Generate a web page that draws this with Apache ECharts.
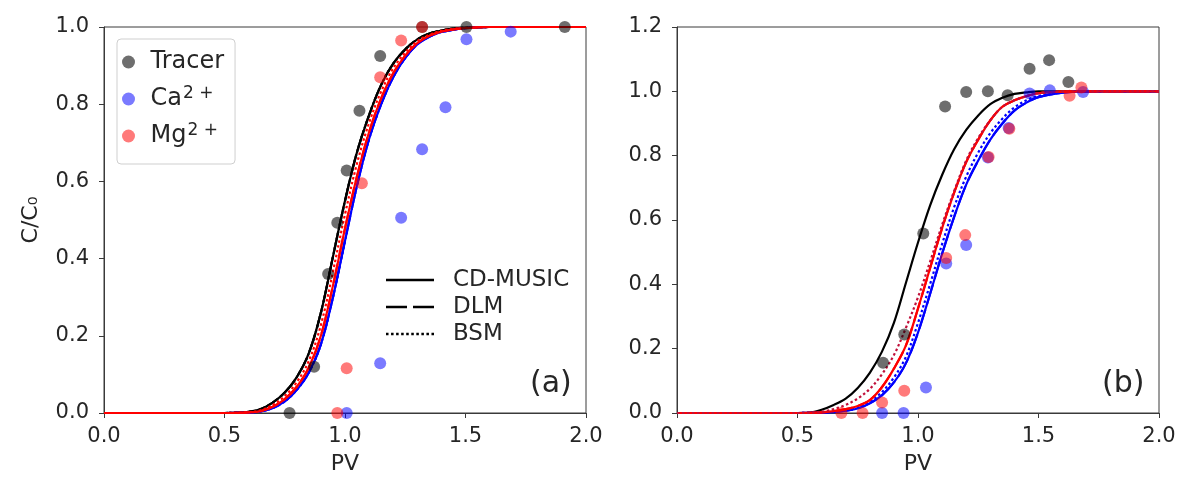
<!DOCTYPE html>
<html><head><meta charset="utf-8">
<script src="https://cdn.jsdelivr.net/npm/echarts@6/dist/echarts.min.js"></script>
<style>html,body{margin:0;padding:0;background:#fff}#c{width:1179px;height:477px}</style>
</head><body><div id="c"></div>
<script>
// ---- data: panel (a) ----
const aTracer = [[0.77,0.0],[0.872,0.12],[0.93,0.36],[0.968,0.493],[1.007,0.628],[1.06,0.783],[1.146,0.925],[1.32,1.0],[1.504,1.0],[1.912,1.0]];
const aCa = [[1.007,0.0],[1.146,0.129],[1.233,0.506],[1.32,0.683],[1.417,0.792],[1.504,0.968],[1.6875,0.988]];
const aMg = [[0.968,0.0],[1.007,0.116],[1.07,0.595],[1.146,0.87],[1.233,0.965],[1.32,1.0]];
// ---- data: panel (b) ----
const bTracer = [[0.855,0.156],[0.943,0.244],[1.022,0.558],[1.1125,0.953],[1.2,0.998],[1.29,1.0],[1.372,0.988],[1.463,1.07],[1.544,1.097],[1.624,1.029]];
const bCa = [[0.851,0.0],[0.94,0.0],[1.033,0.079],[1.117,0.465],[1.2,0.522],[1.29,0.794],[1.376,0.886],[1.463,0.993],[1.547,1.003],[1.685,0.998]];
const bMg = [[0.682,0.0],[0.77,0.0],[0.851,0.033],[0.943,0.069],[1.117,0.482],[1.196,0.553],[1.293,0.796],[1.379,0.884],[1.629,0.986],[1.678,1.012]];
// ---- model curves ----
const curveX = [0,0.5,0.55,0.6,0.65,0.7,0.75,0.8,0.85,0.9,0.95,1.0,1.05,1.1,1.15,1.2,1.25,1.3,1.35,1.4,1.45,1.5,1.6,1.7,1.8,2.0];
const aBlack  = [0,0,0.001,0.003,0.01,0.027,0.053,0.093,0.155,0.26,0.405,0.55,0.676,0.772,0.85,0.905,0.942,0.968,0.983,0.991,0.996,0.998,1,1,1,1];
const aRed    = [0,0,0.0005,0.0015,0.005,0.016,0.036,0.068,0.118,0.2,0.33,0.478,0.614,0.728,0.815,0.88,0.926,0.958,0.977,0.988,0.994,0.997,1,1,1,1];
const aRedDot = [0,0,0.0007,0.002,0.007,0.021,0.044,0.08,0.135,0.228,0.366,0.515,0.647,0.752,0.833,0.893,0.934,0.963,0.98,0.99,0.995,0.998,1,1,1,1];
const aBlue   = [0,0,0.0003,0.001,0.004,0.013,0.03,0.06,0.105,0.178,0.3,0.446,0.59,0.71,0.8,0.87,0.92,0.955,0.975,0.987,0.993,0.997,1,1,1,1];
const bBlack  = [0,0,0.001,0.01,0.025,0.045,0.078,0.125,0.19,0.28,0.405,0.53,0.645,0.74,0.82,0.88,0.925,0.96,0.98,0.992,0.997,1,1,1,1,1];
const bRed    = [0,0,0.0005,0.002,0.006,0.012,0.022,0.04,0.08,0.138,0.21,0.325,0.45,0.575,0.685,0.78,0.85,0.91,0.952,0.972,0.985,0.994,0.999,1,1,1];
const bRedDot = [0,0,0.001,0.004,0.012,0.025,0.045,0.075,0.12,0.18,0.265,0.36,0.47,0.585,0.69,0.785,0.855,0.91,0.952,0.972,0.985,0.994,0.999,1,1,1];
const bBlue   = [0,0,0.0003,0.001,0.003,0.007,0.014,0.03,0.055,0.095,0.155,0.25,0.37,0.495,0.61,0.71,0.785,0.85,0.9,0.94,0.965,0.982,0.996,1,1,1];
const bBlueDot= [0,0,0.0004,0.001,0.004,0.009,0.018,0.035,0.065,0.11,0.175,0.28,0.4,0.525,0.64,0.735,0.81,0.87,0.915,0.95,0.972,0.986,0.997,1,1,1];
const scatterNames = ['Tracer','Ca²⁺','Mg²⁺'];
const scatterLabels = {'Tracer':'Tracer','Ca²⁺':'Ca{s|2 +}','Mg²⁺':'Mg{s|2 +}'};
const modelNames = ['CD-MUSIC','DLM','BSM'];
const panelLabels = ['(a)','(b)'];

const FONT = 'DejaVu Sans';
const TXT = '#262626';
const AX = '#3a3a3a';
const colGray = 'rgba(0,0,0,0.57)', colBlue = 'rgba(0,0,255,0.52)', colRed = 'rgba(255,0,0,0.52)';
const dashes = {'CD-MUSIC':'solid','DLM':[20,6],'BSM':[2.5,2.5]};
// legend sample icons (solid, dashed, dotted), 48 x 2.5
let dots = ''; for (let i = 0; i < 10; i++) dots += 'M' + (i*5) + ',0h2.5v2.5h-2.5Z';
const legendIcons = {'CD-MUSIC':'path://M0,0H48V2.5H0Z', 'DLM':'path://M0,0H21V2.5H0Z M27,0H48V2.5H27Z', 'BSM':'path://' + dots};

const zip = ys => curveX.map((x,i)=>[x,ys[i]]);
function ln(name, idx, ys, color){
  return {type:'line', name, xAxisIndex:idx, yAxisIndex:idx, data:zip(ys), showSymbol:false, symbol:'none',
    smooth:0.35, lineStyle:{color, width:2.2, type:dashes[name]}, itemStyle:{color}, z:2, silent:true};
}
function sc(name, idx, data, color){
  return {type:'scatter', name, xAxisIndex:idx, yAxisIndex:idx, data, symbolSize:12, clip:false,
    itemStyle:{color, opacity:1}, z:5};
}
function xAx(idx){
  return {type:'value', gridIndex:idx, min:0, max:2, interval:0.5, name:'PV', nameLocation:'middle', nameGap:40,
    nameTextStyle:{fontFamily:FONT, fontSize:22, color:TXT},
    axisLine:{show:true, onZero:false, lineStyle:{color:AX, width:1}},
    axisTick:{show:true, length:5, lineStyle:{color:AX}},
    axisLabel:{fontFamily:FONT, fontSize:21, color:TXT, margin:13, formatter:v=>v.toFixed(1)},
    splitLine:{show:false}};
}
function yAx(idx, max, withName){
  return {type:'value', gridIndex:idx, min:0, max, interval:0.2, name: withName ? 'C/C₀' : '', nameLocation:'middle', nameGap:62,
    nameTextStyle:{fontFamily:FONT, fontSize:22, color:TXT},
    axisLine:{show:true, onZero:false, lineStyle:{color:AX, width:1}},
    axisTick:{show:true, length:5, lineStyle:{color:AX}},
    axisLabel:{fontFamily:FONT, fontSize:21, color:TXT, margin:15, formatter:v=>v.toFixed(1)},
    splitLine:{show:false}};
}

const series = [
  // panel a
  ln('CD-MUSIC',0,aBlack,'#000'), ln('DLM',0,aBlack,'#000'), ln('BSM',0,aBlack,'#000'),
  ln('CD-MUSIC',0,aBlue,'#0000ff'), ln('DLM',0,aBlue,'#0000ff'), ln('BSM',0,aBlue,'#0000ff'),
  ln('CD-MUSIC',0,aRed,'#ff0000'), ln('DLM',0,aRed,'#ff0000'), ln('BSM',0,aRedDot,'#ff0000'),
  // panel b
  ln('CD-MUSIC',1,bBlack,'#000'),
  ln('CD-MUSIC',1,bBlue,'#0000ff'), ln('DLM',1,bBlue,'#0000ff'), ln('BSM',1,bBlueDot,'#0000ff'),
  ln('CD-MUSIC',1,bRed,'#ff0000'), ln('DLM',1,bRed,'#ff0000'), ln('BSM',1,bRedDot,'#c0103a'),
  sc(scatterNames[0],0,aTracer,colGray), sc(scatterNames[1],0,aCa,colBlue), sc(scatterNames[2],0,aMg,colRed),
  sc(scatterNames[0],1,bTracer,colGray), sc(scatterNames[1],1,bCa,colBlue), sc(scatterNames[2],1,bMg,colRed)
];

const chart = echarts.init(document.getElementById('c'), null, {renderer:'canvas'});
chart.setOption({
  animation:false,
  backgroundColor:'#fff',
  grid:[
    {left:104, top:27, width:482, height:386, show:true, borderColor:AX, borderWidth:1, backgroundColor:'transparent', outerBoundsMode:'none', containLabel:false},
    {left:677, top:27, width:482, height:386, show:true, borderColor:AX, borderWidth:1, backgroundColor:'transparent', outerBoundsMode:'none', containLabel:false}
  ],
  xAxis:[xAx(0), xAx(1)],
  yAxis:[yAx(0,1,true), yAx(1,1.2,false)],
  title:[
    {text:panelLabels[0], left:530, top:369, padding:0, textStyle:{fontFamily:FONT, fontSize:30, fontWeight:'normal', color:TXT}},
    {text:panelLabels[1], left:1102, top:369, padding:0, textStyle:{fontFamily:FONT, fontSize:30, fontWeight:'normal', color:TXT}}
  ],
  legend:[
    {data:scatterNames, orient:'vertical', left:117, top:39, padding:[9,11,14,5], itemGap:9, itemWidth:34, itemHeight:13,
     icon:'circle', borderColor:'#cfcfcf', borderWidth:1, borderRadius:4, backgroundColor:'rgba(255,255,255,0.8)',
     formatter:n=>scatterLabels[n],
     textStyle:{fontFamily:FONT, fontSize:24, color:TXT, lineHeight:28,
       rich:{s:{fontFamily:FONT, fontSize:17, color:TXT, lineHeight:14, verticalAlign:'top', padding:[0,0,0,1]}}},
     selectedMode:false},
    {data:modelNames.map(n=>({name:n, icon:legendIcons[n]})), orient:'vertical', left:386, top:267, padding:0, itemGap:1,
     itemWidth:48, itemHeight:2.5, symbolKeepAspect:false,
     textStyle:{fontFamily:FONT, fontSize:23, color:TXT, lineHeight:26, padding:[0,0,0,14]}, selectedMode:false}
  ],
  series
});
</script></body></html>
